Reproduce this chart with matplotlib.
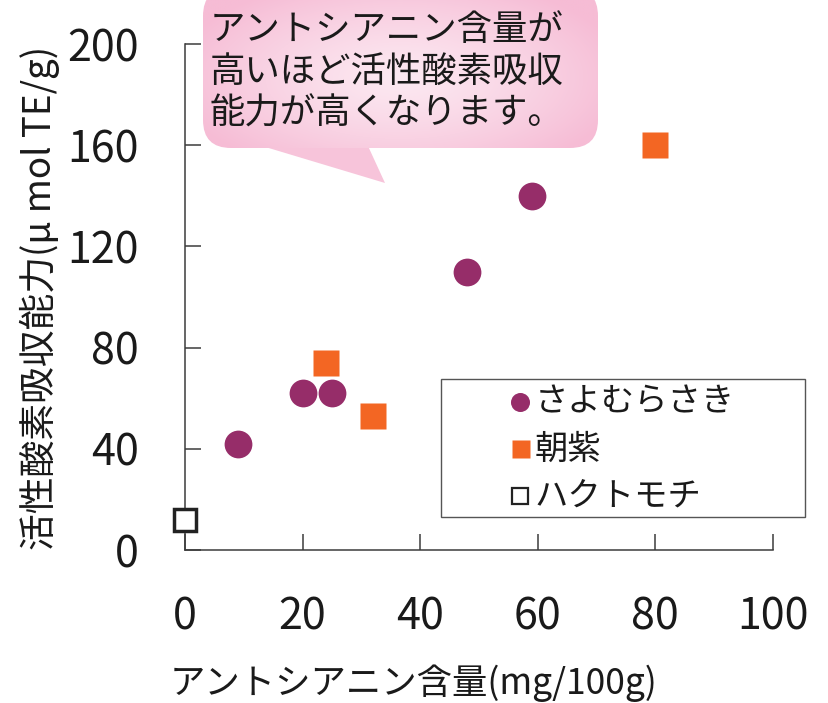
import matplotlib
matplotlib.use('Agg')
import matplotlib.pyplot as plt
import numpy as np
from matplotlib.patches import FancyBboxPatch, Polygon, Rectangle

plt.rcParams['font.family'] = ['Noto Sans CJK JP', 'DejaVu Sans']

# ---- data ----
sayo_x = [9, 20, 25, 48, 59]
sayo_y = [42, 62, 62, 110, 140]
asa_x = [24, 32, 80]
asa_y = [74, 53, 160]
haku_x = [0]
haku_y = [12]
series_names = ['さよむらさき', '朝紫', 'ハクトモチ']
x_ticks = [0, 20, 40, 60, 80, 100]
y_ticks = [0, 40, 80, 120, 160, 200]
x_title = 'アントシアニン含量(mg/100g)'
y_title = '活性酸素吸収能力(μ mol TE/g)'
callout_lines = ['アントシアニン含量が', '高いほど活性酸素吸収', '能力が高くなります。']

PURPLE = '#962D69'
ORANGE = '#F36623'
AXC = '#3c3c3c'

W, H = 829, 703
fig = plt.figure(figsize=(W / 100, H / 100), dpi=100)


def fx(px):
    return px / W


def fy(py):
    return 1 - py / H


ax = fig.add_axes([fx(185), fy(550), fx(772.7) - fx(185), fy(44) - fy(550)])
ax.set_xlim(0, 100)
ax.set_ylim(0, 200)
for s in ['top', 'right']:
    ax.spines[s].set_visible(False)
for s in ['left', 'bottom']:
    ax.spines[s].set_color(AXC)
    ax.spines[s].set_linewidth(1.1)
ax.set_xticks(x_ticks)
ax.set_yticks(y_ticks)
ax.tick_params(direction='in', length=11.5, width=1.1, color=AXC,
               labelsize=31, pad=33, labelcolor='#1a1a1a')

ax.plot(sayo_x, sayo_y, 'o', ms=20, color=PURPLE, mec='none', clip_on=False, zorder=3)
ax.plot(asa_x, asa_y, 's', ms=18.7, color=ORANGE, mec='none', clip_on=False, zorder=3)
ax.plot(haku_x, haku_y, 's', ms=16.2, mfc='white', mec='#222222', mew=2.5,
        clip_on=False, zorder=4)

fig.text(fx(170), fy(683), x_title, ha='left', va='center', fontsize=25.5,
         color='#1a1a1a')
fig.text(fx(40), fy(298), y_title, rotation=90, ha='center', va='center',
         fontsize=26.5, color='#1a1a1a')

# ---- overlay in pixel coords ----
ov = fig.add_axes([0, 0, 1, 1])
ov.set_zorder(5)
ov.axis('off')

# callout
tail = Polygon([(262, 146), (368, 146), (385, 183)], closed=True,
               facecolor='#F7C4DA', edgecolor='none', zorder=1)
ov.add_patch(tail)
gx = np.linspace(203, 598, 200)
gy = np.linspace(-10, 150, 100)
X, Y = np.meshgrid(gx, gy)
d = np.sqrt(((X - 400) / 230) ** 2 + ((Y - 78) / 105) ** 2)
d = np.clip(d, 0, 1) ** 1.3
c0 = np.array([252, 232, 241]) / 255
c1 = np.array([246, 188, 213]) / 255
img = c0 + (c1 - c0) * d[..., None]
im = ov.imshow(img, extent=(203, 598, 150, -10), origin='upper', aspect='auto',
               interpolation='bilinear', zorder=2)
box = FancyBboxPatch((203, -12), 395, 160, boxstyle='round,pad=0,rounding_size=28',
                     facecolor='none', edgecolor='none')
ov.add_patch(box)
im.set_clip_path(box)
for i, line in enumerate(callout_lines):
    ov.text(210, 30 + 42 * i, line, ha='left', va='center', fontsize=25.5,
            color='#1a1a1a', zorder=3)

# legend
ov.add_patch(Rectangle((441, 379), 364, 138, facecolor='white', edgecolor='#555555',
                       lw=1.0, zorder=2))
rows = [402, 449, 496]
ov.plot([520], [rows[0]], 'o', ms=13.7, color=PURPLE, mec='none', zorder=3)
ov.plot([521], [rows[1]], 's', ms=13, color=ORANGE, mec='none', zorder=3)
ov.plot([520], [rows[2]], 's', ms=12, mfc='white', mec='#222222', mew=1.6, zorder=3)
for r, name in zip(rows, series_names):
    ov.text(535, r, name, ha='left', va='center', fontsize=24, color='#1a1a1a', zorder=3)

ov.set_xlim(0, W)
ov.set_ylim(H, 0)

fig.savefig('out.png', dpi=100)
